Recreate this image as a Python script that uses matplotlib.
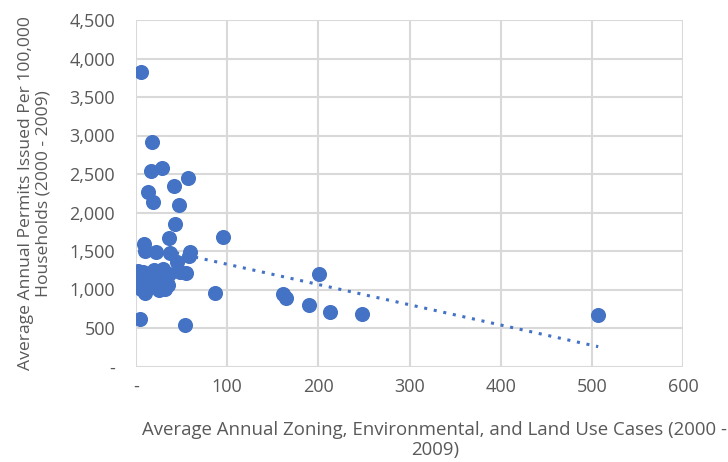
import matplotlib
matplotlib.use("Agg")
import matplotlib.pyplot as plt
import numpy as np
from matplotlib.ticker import FuncFormatter

# zoning / land use cases per year vs permits per 100k households
cases = [5.5, 17.5, 16, 28.5, 57, 13, 42, 18.5, 47, 43, 36, 95.5,
         9, 10, 22, 59, 58, 37, 45, 48, 55, 201,
         2, 5, 6, 8, 10, 12, 14, 16, 18, 20, 22, 24, 26, 28, 30, 32,
         34, 36, 8, 12, 25, 35, 30,
         87, 161, 165, 190, 213, 248, 507, 4.5, 54]
permits = [3820, 2920, 2540, 2580, 2450, 2270, 2350, 2130, 2100, 1855, 1670, 1686,
           1585, 1505, 1490, 1490, 1440, 1480, 1360, 1230, 1220, 1206,
           1240, 1010, 1180, 1100, 960, 1050, 1200, 1130, 1080, 1250, 1180, 1100, 1050, 1230, 1140, 1010,
           1080, 1200, 1230, 1150, 1000, 1060, 1270,
           960, 947, 895, 804, 713, 687, 674, 622, 545]

# linear trendline
trend_slope = -2.63
trend_intercept = 1591

blue = "#4472c4"
grey = "#595959"
fs = 13

plt.rcParams['font.family'] = ['Open Sans', 'DejaVu Sans']

fig = plt.figure(figsize=(7.28, 4.62), dpi=100)
ax = fig.add_axes([136 / 728, 1 - 366.5 / 462, (683 - 136) / 728, (366.5 - 20) / 462])

ax.scatter(cases, permits, s=118, color=blue, zorder=3, linewidths=0)

xs = np.array([min(cases), max(cases)])
ax.plot(xs, trend_slope * xs + trend_intercept, color=blue,
        linestyle=(0, (1, 2.2)), linewidth=2.2, zorder=2)

ax.set_xlim(0, 600)
ax.set_ylim(0, 4500)
ax.set_xticks(range(0, 601, 100))
ax.set_yticks(range(0, 4501, 500))

fmt = FuncFormatter(lambda v, p: "-" if v == 0 else f"{int(v):,}")
ax.xaxis.set_major_formatter(fmt)
ax.yaxis.set_major_formatter(fmt)

ax.grid(True, color="#d9d9d9", linewidth=1.5, zorder=0)
ax.set_axisbelow(True)
for s in ax.spines.values():
    s.set_visible(False)
ax.tick_params(length=0, labelsize=fs, colors=grey)
ax.tick_params(axis="y", pad=15)
ax.tick_params(axis="x", pad=8)

ax.set_ylabel("Average Annual Permits Issued Per 100,000\nHouseholds (2000 - 2009)",
              fontsize=12.6, color=grey, linespacing=1.15)
ax.yaxis.set_label_coords(-0.154, 0.5)
fig.text(435 / 728, 1 - 440 / 462,
         "Average Annual Zoning, Environmental, and Land Use Cases (2000 -\n2009)",
         ha="center", va="center", fontsize=13.4, color=grey, linespacing=1.15)

fig.savefig("out.png", dpi=100)
